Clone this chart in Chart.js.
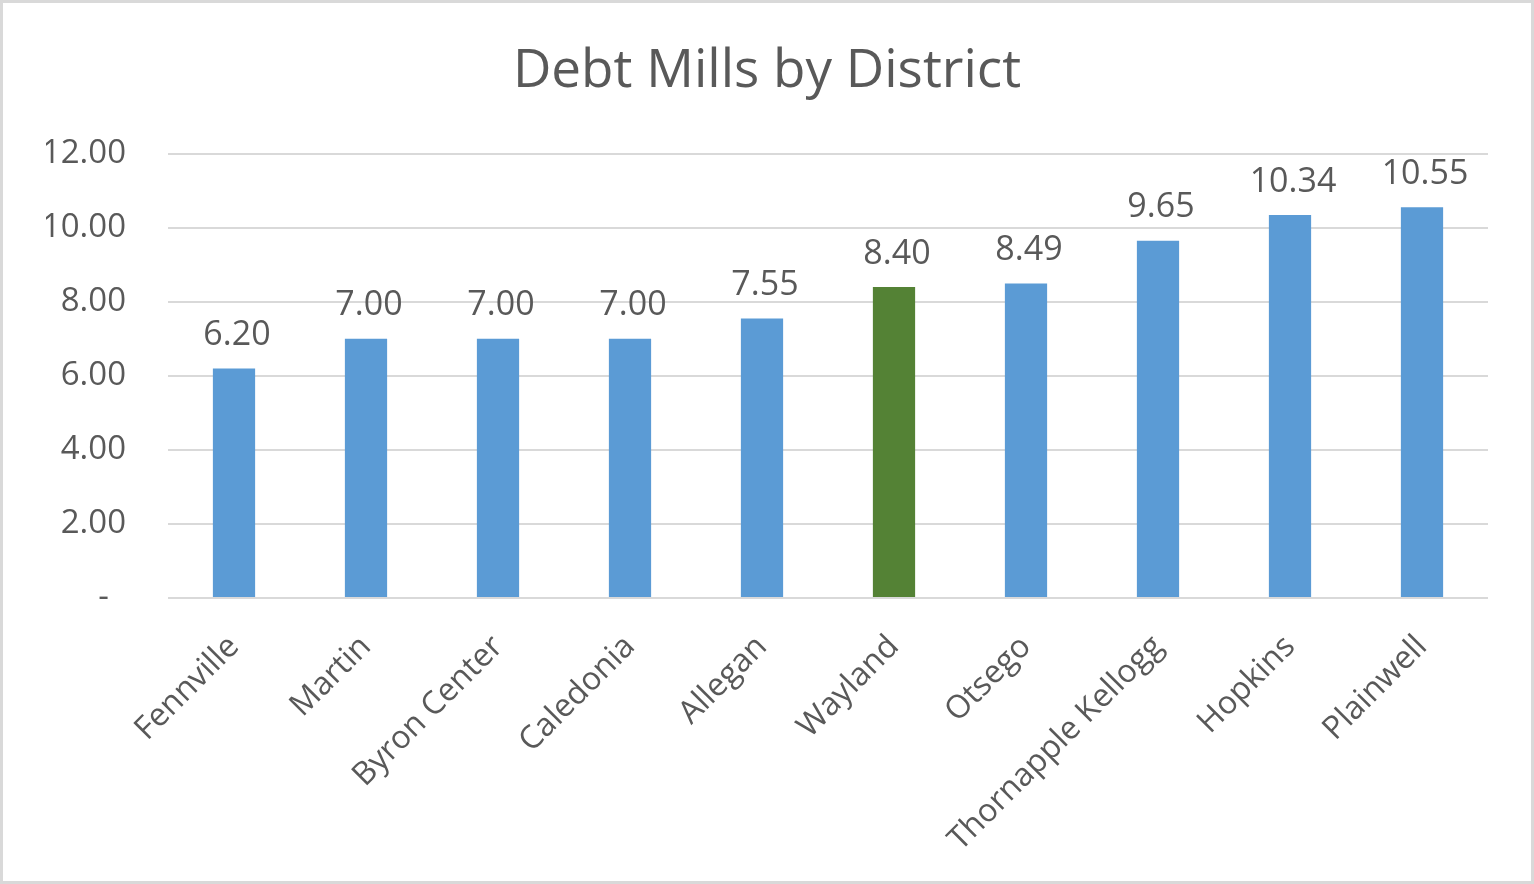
<!DOCTYPE html>
<html>
<head>
<meta charset="utf-8">
<script src="https://cdn.jsdelivr.net/npm/chart.js@4/dist/chart.umd.min.js"></script>
<style>
  html, body { margin: 0; padding: 0; background: #fff; }
  #wrap { width: 1534px; height: 884px; position: relative; }
</style>
</head>
<body>
<div id="wrap"><canvas id="debtChart"></canvas></div>
<script>
const districts = ["Fennville", "Martin", "Byron Center", "Caledonia", "Allegan",
    "Wayland", "Otsego", "Thornapple Kellogg", "Hopkins", "Plainwell"];
const debtMills = [6.20, 7.00, 7.00, 7.00, 7.55, 8.40, 8.49, 9.65, 10.34, 10.55];
const highlighted = "Wayland";

const textColor = "#595959";
const fontFamily = "'Open Sans', 'Noto Sans', sans-serif";

const barColors = districts.map(d => d === highlighted ? "#548235" : "#5B9BD5");

// white background + light frame around the whole chart
const framePlugin = {
    id: "frame",
    beforeDraw(chart) {
        const c = chart.ctx;
        c.save();
        c.fillStyle = "#fff";
        c.fillRect(0, 0, chart.width, chart.height);
        c.strokeStyle = "#d9d9d9";
        c.lineWidth = 3;
        c.strokeRect(1.5, 1.5, chart.width - 3, chart.height - 3);
        c.restore();
    }
};

// value labels above each bar
const valueLabels = {
    id: "valueLabels",
    afterDatasetsDraw(chart) {
        const c = chart.ctx;
        const meta = chart.getDatasetMeta(0);
        c.save();
        c.font = "34px " + fontFamily;
        c.fillStyle = textColor;
        c.textAlign = "center";
        c.textBaseline = "bottom";
        meta.data.forEach((bar, i) => {
            c.fillText(debtMills[i].toFixed(2), bar.x + 3, bar.y - 16);
        });
        c.restore();
    }
};

const ctx = document.getElementById("debtChart").getContext("2d");
new Chart(ctx, {
    type: "bar",
    data: {
        labels: districts,
        datasets: [{
            label: "Debt Mills",
            data: debtMills,
            backgroundColor: barColors,
            borderWidth: 0,
            categoryPercentage: 1,
            barPercentage: 0.32
        }]
    },
    options: {
        responsive: true,
        maintainAspectRatio: false,
        animation: false,
        layout: { padding: { left: 46, right: 46, top: 0, bottom: 0 } },
        plugins: {
            legend: { display: false },
            tooltip: { enabled: false },
            title: {
                display: true,
                text: "Debt Mills by District",
                color: textColor,
                font: { family: fontFamily, size: 53, weight: "normal" },
                padding: { top: 40, bottom: 50 }
            }
        },
        scales: {
            x: {
                grid: { display: false, drawTicks: false },
                border: { display: false },
                ticks: {
                    color: textColor,
                    font: { family: fontFamily, size: 32 },
                    minRotation: 45,
                    maxRotation: 45,
                    padding: 30
                },
                afterFit(scale) { scale.height = 286; }
            },
            y: {
                min: 0,
                max: 12,
                grid: { color: "#d9d9d9", lineWidth: 2, drawTicks: false },
                border: { display: false },
                ticks: {
                    stepSize: 2,
                    color: textColor,
                    font: { family: fontFamily, size: 33 },
                    padding: 42,
                    callback: v => v === 0 ? "-  " : v.toFixed(2)
                },
                afterFit(scale) { scale.width = 122; }
            }
        }
    },
    plugins: [framePlugin, valueLabels]
});
</script>
</body>
</html>
